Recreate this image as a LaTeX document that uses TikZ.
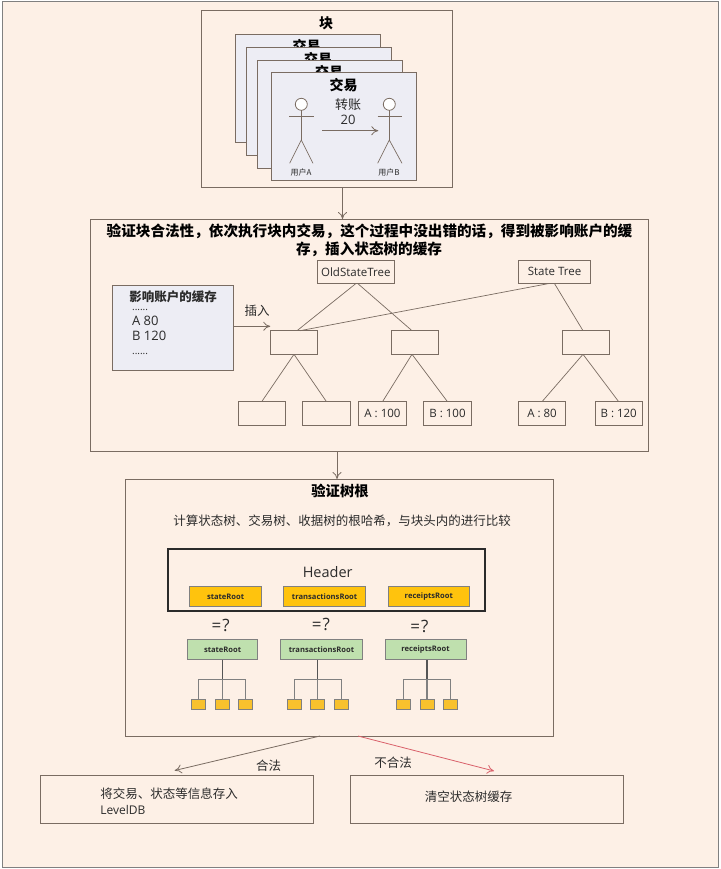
\documentclass[tikz,border=0pt]{standalone}
\usepackage{fontspec}
\setmainfont{Open Sans}
\newfontfamily\cjk{Noto Sans CJK SC}
\usetikzlibrary{arrows.meta}
\definecolor{paper}{HTML}{FDF0E6}
\definecolor{edge}{HTML}{7A6C62}
\definecolor{cardfill}{HTML}{EDEDF4}
\definecolor{ink}{HTML}{2B2B2B}
\definecolor{gold}{HTML}{FFC30D}
\definecolor{leafgold}{HTML}{F8C12D}
\definecolor{mint}{HTML}{BFE0AE}
\definecolor{rose}{HTML}{D9606A}
\newcommand{\fsize}[1]{\fontsize{#1}{#1}\selectfont}

\begin{document}
\begin{tikzpicture}[x=1pt, y=-1pt, line width=0.8pt,
  box/.style = {draw=edge, inner sep=0pt, outer sep=0pt},
  block/.style = {box, line width=0.9pt},
  card/.style = {box, fill=cardfill, minimum width=145pt, minimum height=108pt},
  mid/.style = {box, minimum width=47.5pt, minimum height=23.6pt},
  leaf/.style = {box, minimum width=47.5pt, minimum height=23.6pt, text=ink, font=\fsize{11.5}},
  root/.style = {box, minimum height=23.6pt, text=ink, font=\fsize{11.5}},
  head/.style = {draw=edge, fill=white, circle, inner sep=0pt, outer sep=0pt, minimum size=12pt},
  body/.style = {draw=edge, line width=0.7pt},
  link/.style = {draw=edge, -{To[length=7pt,width=9pt]}},
  big/.style = {text=black, font=\cjk\bfseries\fsize{14.6}, inner sep=0pt},
  txt/.style = {text=ink, font=\cjk\fsize{12.5}, inner sep=0pt},
  lat/.style = {text=ink, font=\fsize{13}, inner sep=0pt},
  orange/.style = {draw=gray, fill=gold, line width=1pt, inner sep=0pt, outer sep=0pt, minimum height=19.6pt, text=ink, font=\bfseries\fsize{7.6}},
  green/.style = {draw=gray, fill=mint, line width=1pt, inner sep=0pt, outer sep=0pt, minimum height=20pt, text=ink, font=\bfseries\fsize{7.6}},
  small/.style = {draw=gray, fill=leafgold, line width=0.8pt, inner sep=0pt, outer sep=0pt, minimum width=14pt, minimum height=10pt},
  trunk/.style = {draw=ink!80, line width=1.3pt},
  twig/.style = {draw=gray, line width=1.1pt}]
\useasboundingbox (0,0) rectangle (720,869);
\node[draw=gray, fill=paper, line width=1pt, inner sep=0pt, minimum width=716pt, minimum height=865pt] (page) at (360,434.5) {};

% block with its transactions
\node[block, minimum width=251pt, minimum height=177pt] (blk) at (326.5,99) {};
\node[big] (blktitle) at (326,23) {\fsize{14}块};
\node[card] (tx1) at (307.4,88.4) {};
\node[big] (tx1title) at (306.7,46.5) {\fsize{14}交易};
\node[card] (tx2) at (319.2,101.2) {};
\node[big] (tx2title) at (318,59.5) {\fsize{14}交易};
\node[card] (tx3) at (329.5,114.4) {};
\node[big] (tx3title) at (329,72.5) {\fsize{14}交易};
\node[card] (tx4) at (344.2,126.3) {};
\node[big] (tx4title) at (343.7,85) {\fsize{14}交易};

% user A
\node[head] (heada) at (301.3,104.3) {};
\coordinate (hipa) at (301.3,140);
\coordinate (arma1) at (289.3,116.3);
\coordinate (arma2) at (314,116.3);
\coordinate (lega1) at (289.7,163.3);
\coordinate (lega2) at (313,163.3);
\draw[body] (heada) -- (hipa);
\draw[body] (arma1) -- (arma2);
\draw[body] (lega1) -- (hipa) -- (lega2);
\node[txt, font=\cjk\fsize{8}] (usera) at (301,172) {用户A};
% user B
\node[head] (headb) at (389.3,104.3) {};
\coordinate (hipb) at (389.3,140);
\coordinate (armb1) at (377.7,116.3);
\coordinate (armb2) at (402,116.3);
\coordinate (legb1) at (377.7,163.3);
\coordinate (legb2) at (402,163.3);
\draw[body] (headb) -- (hipb);
\draw[body] (armb1) -- (armb2);
\draw[body] (legb1) -- (hipb) -- (legb2);
\node[txt, font=\cjk\fsize{8}] (userb) at (389,172) {用户B};
% transfer
\coordinate (paya) at (322,130.7);
\coordinate (payb) at (378.3,130.7);
\draw[link] (paya) -- (payb);
\node[txt, font=\cjk\fsize{13}] (pay) at (348,105) {转账};
\node[lat] (amount) at (348,120) {20};

% verify block
\node[block, minimum width=558pt, minimum height=232pt] (check) at (369,335) {};
\node[big] (line1) at (369.5,231) {验证块合法性，依次执行块内交易，这个过程中没出错的话，得到被影响账户的缓};
\node[big] (line2) at (369,249) {存，插入状态树的缓存};
\draw[link] ([xshift=16pt]blk.south) -- ([xshift=-26.5pt]check.north);

\node[box, fill=cardfill, minimum width=121pt, minimum height=84.4pt] (cache) at (173.2,327.9) {};
\node[txt, font=\cjk\bfseries\fsize{12.5}] (cachetitle) at (173,296.7) {影响账户的缓存};
\node[lat, anchor=west, font=\fsize{10}] (dots1) at (131.7,310) {......};
\node[lat, anchor=west] (a80) at (131.7,321) {A 80};
\node[lat, anchor=west] (b120) at (131.7,336) {B 120};
\node[lat, anchor=west, font=\fsize{10}] (dots2) at (131.7,354) {......};
\node[txt] (insert) at (257,310.7) {插入};

\node[root, minimum width=77pt] (old) at (355.8,271.8) {OldStateTree};
\node[root, minimum width=72.4pt] (state) at (554.5,271.8) {State Tree};
\node[mid] (m1) at (294,342.5) {};
\node[mid] (m2) at (415,342.5) {};
\node[mid] (m3) at (586,342.5) {};
\node[leaf] (l1) at (261.7,413.5) {};
\node[leaf] (l2) at (326.5,413.5) {};
\node[leaf] (l3) at (382.5,413.5) {A : 100};
\node[leaf] (l4) at (447.5,413.5) {B : 100};
\node[leaf] (l5) at (542,413.5) {A : 80};
\node[leaf] (l6) at (618.7,413.5) {B : 120};
\draw[body] (old.south) -- ([xshift=3pt]m1.north);
\draw[body] ([xshift=2pt]old.south) -- ([xshift=-3pt]m2.north);
\draw[body] ([xshift=-6pt]state.south) -- ([xshift=6pt]m1.north);
\draw[body] (state.south) -- ([xshift=-3pt]m3.north);
\draw[body] (m1.south) -- (l1.north);
\draw[body] (m1.south) -- (l2.north);
\draw[body] ([xshift=-3pt]m2.south) -- (l3.north);
\draw[body] ([xshift=-3pt]m2.south) -- (l4.north);
\draw[body] ([xshift=-3pt]m3.south) -- (l5.north);
\draw[body] ([xshift=-3pt]m3.south) -- (l6.north);
\draw[link] (cache.east |- 0,326.3) -- (m1.west |- 0,326.3);

% verify root
\node[block, minimum width=428pt, minimum height=257pt] (verify) at (339,607.5) {};
\node[big, font=\cjk\bfseries\fsize{14.3}] (verifytitle) at (340,491) {验证树根};
\node[txt] (verifytext) at (342,521) {计算状态树、交易树、收据树的根哈希，与块头内的进行比较};
\draw[link] ([xshift=-32pt]check.south) -- ([xshift=-2pt]verify.north);

\node[draw=ink, line width=2pt, inner sep=0pt, minimum width=317pt, minimum height=62.6pt] (header) at (326.8,580) {};
\node[text=ink, font=\fsize{14.5}, inner sep=0pt] (headertitle) at (327.7,571.7) {Header};
\node[orange, minimum width=71.3pt] (o1) at (225.6,596.5) {stateRoot};
\node[orange, minimum width=82.7pt] (o2) at (324.6,596.5) {transactionsRoot};
\node[orange, minimum width=81pt] (o3) at (428.8,596.5) {receiptsRoot};
\node[lat, font=\fsize{17}] (eq1) at (220.7,625) {=\kern1pt?};
\node[lat, font=\fsize{17}] (eq2) at (321,624) {=\kern1pt?};
\node[lat, font=\fsize{17}] (eq3) at (419.3,626) {=\kern1pt?};
\node[green, minimum width=70.7pt] (g1) at (222.6,649.7) {stateRoot};
\node[green, minimum width=82.4pt] (g2) at (321.5,649.7) {transactionsRoot};
\node[green, minimum width=81pt] (g3) at (425.5,649.7) {receiptsRoot};
\node[small] (s11) at (198.3,704) {};
\node[small] (s12) at (222.3,704) {};
\node[small] (s13) at (245.7,704) {};
\node[small] (s21) at (294.3,704) {};
\node[small] (s22) at (317.7,704) {};
\node[small] (s23) at (341.3,704) {};
\node[small] (s31) at (403.3,704) {};
\node[small] (s32) at (427,704) {};
\node[small] (s33) at (450.7,704) {};
\coordinate (b1) at (222.3,679.3);
\coordinate (b2) at (317.7,679.3);
\coordinate (b3) at (427,679.3);
\draw[twig] (s11.north) |- (b1) -| (s13.north);
\draw[twig] (s21.north) |- (b2) -| (s23.north);
\draw[twig] (s31.north) |- (b3) -| (s33.north);
\draw[twig] (b1) -- (s12.north);
\draw[twig] (b2) -- (s22.north);
\draw[twig] (b3) -- (s32.north);
\draw[trunk] (s12.north |- g1.south) -- (b1);
\draw[trunk] (s22.north |- g2.south) -- (b2);
\draw[trunk] (s32.north |- g3.south) -- (b3);

% results
\node[box, minimum width=273pt, minimum height=48pt] (good) at (177,799) {};
\node[box, minimum width=273pt, minimum height=48pt] (bad) at (487,799) {};
\node[txt, anchor=west] (goodtext1) at (100,794) {将交易、状态等信息存入};
\node[txt, anchor=west, font=\fsize{12}] (goodtext2) at (100,810) {LevelDB};
\node[txt] (badtext) at (468.5,796.5) {清空状态树缓存};
\coordinate (from1) at (320,736);
\coordinate (to1) at (174.7,770.5);
\coordinate (from2) at (358,736);
\coordinate (to2) at (494,771);
\draw[link] (from1) -- (to1);
\draw[link, draw=rose] (from2) -- (to2);
\node[txt] (oklabel) at (268.5,766) {合法};
\node[txt] (nolabel) at (393,763) {不合法};
\end{tikzpicture}
\end{document}
